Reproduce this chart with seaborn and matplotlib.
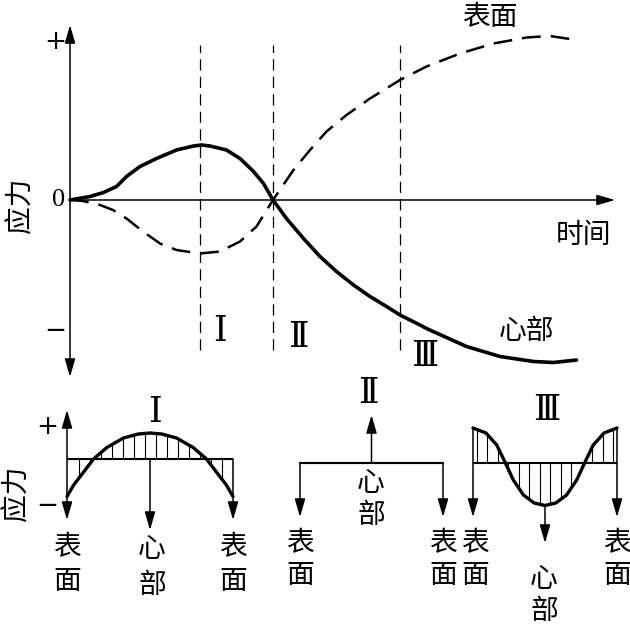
import numpy as np
import matplotlib
matplotlib.use("Agg")
import matplotlib.pyplot as plt
import seaborn as sns

# ---------------- data ----------------
# main chart: stress vs time (arbitrary units)
time_core = [0.0, 0.4, 0.67, 0.93, 1.13, 1.4, 1.73, 2.13, 2.47, 2.63, 2.8, 3.13, 3.4,
             3.67, 3.87, 4.06, 4.33, 4.67, 5.0, 5.33, 5.67, 6.0, 6.33, 6.6, 7.0, 7.13,
             7.93, 8.6, 9.27, 9.67, 10.13]
stress_core = [0.0, 0.07, 0.15, 0.27, 0.47, 0.67, 0.83, 1.0, 1.08, 1.1, 1.08, 1.0, 0.83,
               0.57, 0.33, 0.0, -0.37, -0.77, -1.13, -1.43, -1.7, -1.93, -2.13, -2.3,
               -2.5, -2.57, -2.93, -3.13, -3.23, -3.25, -3.2]
time_surface = [0.0, 0.26, 0.6, 0.86, 1.13, 1.46, 1.8, 2.13, 2.6, 3.0, 3.4, 3.73, 4.06,
                4.47, 4.8, 5.13, 5.53, 6.0, 6.6, 7.13, 7.8, 8.47, 9.13, 9.6, 10.13]
stress_surface = [0.0, -0.02, -0.1, -0.2, -0.37, -0.63, -0.87, -1.0, -1.07, -1.03, -0.83,
                  -0.53, 0.0, 0.6, 1.0, 1.37, 1.7, 2.03, 2.4, 2.67, 2.93, 3.13, 3.25,
                  3.28, 3.2]
phase_times = [2.6, 4.06, 6.6]
phase_labels = ["Ⅰ", "Ⅱ", "Ⅲ"]

# cross-section stress profiles (position -1 = surface, 0 = core, 1 = surface)
section_I = [-1.0, -0.92, -0.8, -0.68, -0.52, -0.32, -0.14, 0.0, 0.14, 0.32, 0.52, 0.68,
             0.8, 0.92, 1.0]
stress_I = [-1.5, -1.04, -0.52, 0.0, 0.46, 0.84, 1.0, 1.04, 1.0, 0.84, 0.46, 0.0, -0.52,
            -1.04, -1.5]
section_II = [-1.0, 0.0, 1.0]
stress_II = [0.0, 0.0, 0.0]
section_III = [-1.0, -0.82, -0.67, -0.55, -0.44, -0.3, -0.15, 0.0, 0.15, 0.3, 0.44, 0.55,
               0.67, 0.82, 1.0]
stress_III = [1.4, 1.2, 0.72, 0.0, -0.68, -1.28, -1.6, -1.7, -1.6, -1.28, -0.68, 0.0, 0.72,
              1.2, 1.4]

# ---------------- style ----------------
sns.set_theme(style="white")
CJK = ["Noto Sans CJK SC", "DejaVu Sans"]
SERIF = ["Liberation Serif", "DejaVu Serif", "Noto Sans CJK SC"]
ROMAN = ["DejaVu Serif", "Noto Sans CJK SC"]
SIGN = ["DejaVu Sans"]
plt.rcParams["font.family"] = CJK

W, H = 630, 627
fig = plt.figure(figsize=(W / 100, H / 100), dpi=100)
fig.patch.set_facecolor("white")


def make_ax(box, origin, scale):
    x0, y0, x1, y1 = box
    ox, oy = origin
    sx, sy = scale
    ax = fig.add_axes([x0 / W, (H - y1) / H, (x1 - x0) / W, (y1 - y0) / H])
    ax.set_xlim((x0 - ox) / sx, (x1 - ox) / sx)
    ax.set_ylim((oy - y1) / sy, (oy - y0) / sy)
    ax.axis("off")
    return ax


def arrow(ax, x0, y0, x1, y1, both=False, lw=1.1):
    style = ("<|-|>" if both else "-|>") + ",head_length=0.55,head_width=0.16"
    ax.annotate("", xy=(x1, y1), xytext=(x0, y0),
                arrowprops=dict(arrowstyle=style, lw=lw, color="black",
                                shrinkA=0, shrinkB=0, mutation_scale=20))


def label(px, py, s, size=20, family=CJK, weight="medium", **kw):
    fig.text(px / W, 1 - py / H, s, ha="center", va="center", fontsize=size,
             family=family, color="black", fontweight=weight, **kw)


def vlabel(px, py_top, chars, step=34, size=20):
    for i, c in enumerate(chars):
        label(px, py_top + i * step, c, size=size)


ROMAN_SIZE = 25

# ---------------- main chart ----------------
ax = make_ax((0, 0, 630, 390), (70, 200), (50, 50))
arrow(ax, 0, -3.54, 0, 3.5, both=True, lw=1.1)
arrow(ax, 0, 0, 10.9, 0, lw=1.1)
for t in phase_times:
    ax.plot([t, t], [-3.0, 3.1], color="black", lw=0.9, ls=(0, (9, 5)))
sns.lineplot(x=time_core, y=stress_core, ax=ax, color="black", lw=2.6,
             sort=False, estimator=None)
sns.lineplot(x=time_surface, y=stress_surface, ax=ax, color="black", lw=1.8,
             sort=False, estimator=None)
ax.lines[-1].set_linestyle((0, (7.5, 4)))

label(55, 42, "+", size=19, family=SIGN, weight="normal")
label(55, 331, "−", size=19, family=SIGN, weight="normal")
label(59, 200, "0", size=19, family=SERIF, weight="normal")
label(21, 205, "应力", size=20, rotation=90)
label(490, 17, "表面")
label(584, 235, "时间")
label(527, 331, "心部")
for lab, (px, py) in zip(phase_labels, [(220, 331), (298, 337), (425, 356)]):
    label(px, py, lab, size=ROMAN_SIZE, family=ROMAN, weight="normal")

# ---------------- stage I ----------------
axI = make_ax((0, 385, 262, 627), (150, 459), (83, 25))
hatch_I = (np.arange(-7, 7) + 0.5) * (11 / 83)
axI.vlines(hatch_I, 0, np.interp(hatch_I, section_I, stress_I), color="black", lw=0.8)
axI.hlines(0, min(section_I), max(section_I), color="black", lw=1.5)
sns.lineplot(x=section_I, y=stress_I, ax=axI, color="black", lw=2.4,
             sort=False, estimator=None)
arrow(axI, -1, -2.44, -1, 1.96, both=True)
arrow(axI, 0, 0, 0, -2.84)
arrow(axI, 1, 0, 1, -2.44)
label(155, 412, "Ⅰ", size=ROMAN_SIZE, family=ROMAN, weight="normal")
label(47, 427, "+", size=19, family=SIGN, weight="normal")
label(47, 506, "−", size=19, family=SIGN, weight="normal")
label(17, 493, "应力", size=20, rotation=90)
vlabel(67, 547, "表面")
vlabel(152, 549, "心部", step=36)
vlabel(233, 547, "表面")

# ---------------- stage II ----------------
axII = make_ax((262, 385, 458, 627), (371.5, 463), (71.5, 25))
axII.hlines(0, min(section_II), max(section_II), color="black", lw=1.5)
sns.lineplot(x=section_II, y=stress_II, ax=axII, color="black", lw=1.5,
             sort=False, estimator=None)
arrow(axII, 0, 0, 0, 1.92)
arrow(axII, -1, 0, -1, -2.16)
arrow(axII, 1, 0, 1, -2.16)
label(368, 393, "Ⅱ", size=ROMAN_SIZE, family=ROMAN, weight="normal")
vlabel(371, 483, "心部", step=32)
vlabel(300, 543, "表面", step=32)
vlabel(443, 543, "表面", step=32)

# ---------------- stage III ----------------
axIII = make_ax((458, 385, 630, 627), (545, 463), (72, 25))
hatch_III = (np.arange(-7, 7) + 0.5) * (10.5 / 72)
axIII.vlines(hatch_III, 0, np.interp(hatch_III, section_III, stress_III),
             color="black", lw=0.8)
axIII.hlines(0, min(section_III), max(section_III), color="black", lw=1.5)
sns.lineplot(x=section_III, y=stress_III, ax=axIII, color="black", lw=2.4,
             sort=False, estimator=None)
arrow(axIII, -1, 1.4, -1, -2.16)
arrow(axIII, 1, 1.4, 1, -2.16)
arrow(axIII, 0, -1.7, 0, -3.2)
label(547, 410, "Ⅲ", size=ROMAN_SIZE, family=ROMAN, weight="normal")
vlabel(475, 543, "表面", step=32)
vlabel(544, 579, "心部", step=32)
vlabel(617, 543, "表面", step=32)

fig.savefig("out.png", dpi=100, facecolor="white")
